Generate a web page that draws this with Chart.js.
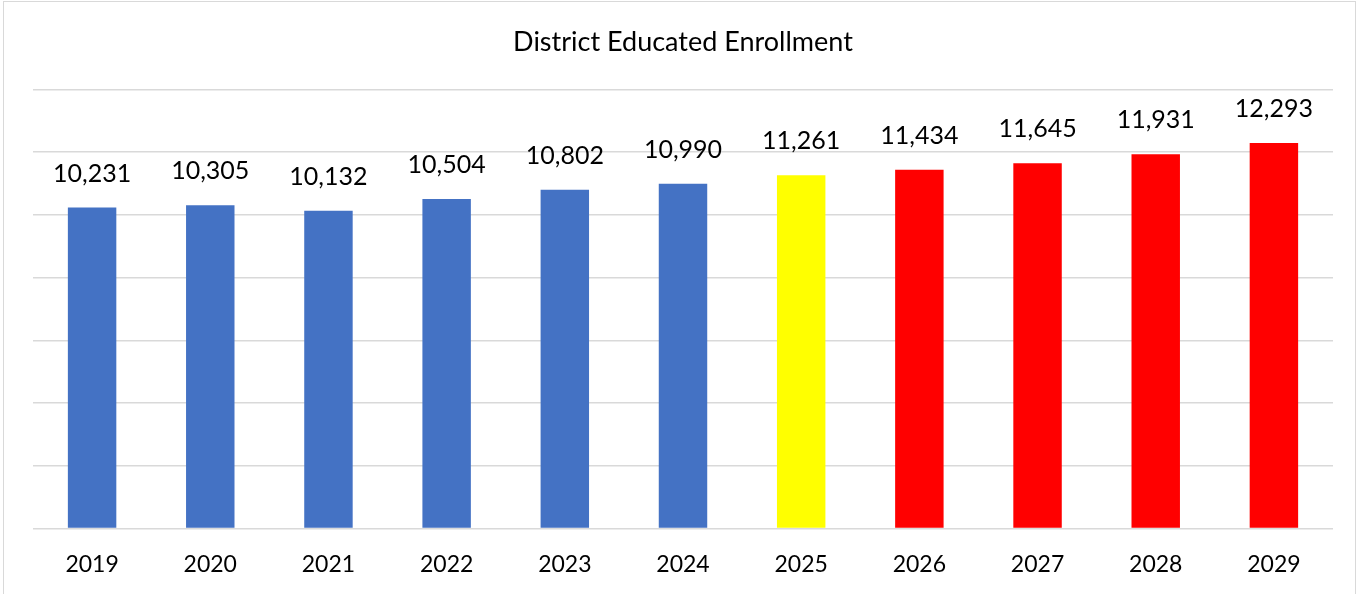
<!DOCTYPE html>
<html>
<head>
<meta charset="utf-8">
<script src="https://cdn.jsdelivr.net/npm/chart.js@4.4.0/dist/chart.umd.min.js"></script>
<style>
  html, body { margin: 0; padding: 0; background: #fff; }
  #wrap { width: 1362px; height: 594px; position: relative; }
</style>
</head>
<body>
<div id="wrap"><canvas id="chart" width="1362" height="594"></canvas></div>
<script>
const years = ["2019", "2020", "2021", "2022", "2023", "2024", "2025", "2026", "2027", "2028", "2029"];
const enrollment = [10231, 10305, 10132, 10504, 10802, 10990, 11261, 11434, 11645, 11931, 12293];
const barColors = ["#4472C4", "#4472C4", "#4472C4", "#4472C4", "#4472C4", "#4472C4",
  "#FFFF00", "#FF0000", "#FF0000", "#FF0000", "#FF0000"];

const FONT = "Lato, 'Open Sans', sans-serif";

// white background + thin frame like the exported picture
const framePlugin = {
  id: "frame",
  beforeDraw(chart) {
    const { ctx, width, height } = chart;
    ctx.save();
    ctx.fillStyle = "#fff";
    ctx.fillRect(0, 0, width, height);
    ctx.strokeStyle = "#d9d9d9";
    ctx.lineWidth = 1;
    ctx.strokeRect(3.5, 1.5, width - 10, height + 10);
    ctx.restore();
  },
};

// value labels above each bar
const valueLabels = {
  id: "valueLabels",
  afterDatasetsDraw(chart) {
    const { ctx } = chart;
    const meta = chart.getDatasetMeta(0);
    ctx.save();
    ctx.font = "25px " + FONT;
    ctx.fillStyle = "#000";
    ctx.textAlign = "center";
    ctx.textBaseline = "alphabetic";
    meta.data.forEach((bar, i) => {
      ctx.fillText(enrollment[i].toLocaleString("en-US"), bar.x, bar.y - 26);
    });
    ctx.restore();
  },
};

new Chart(document.getElementById("chart"), {
  type: "bar",
  data: {
    labels: years,
    datasets: [
      {
        data: enrollment,
        backgroundColor: barColors,
        borderWidth: 0,
        categoryPercentage: 1,
        barPercentage: 0.41,
      },
    ],
  },
  options: {
    responsive: false,
    animation: false,
    layout: {
      padding: { left: 33, right: 29, top: 0, bottom: -6 },
    },
    scales: {
      x: {
        grid: { display: false, drawTicks: false },
        border: { display: false },
        ticks: {
          color: "#000",
          font: { family: FONT, size: 23 },
          padding: 22,
        },
      },
      y: {
        min: 0,
        max: 14000,
        ticks: { display: false, stepSize: 2000 },
        grid: { color: "#d9d9d9", lineWidth: 1.5, drawTicks: false },
        border: { display: false },
      },
    },
    plugins: {
      legend: { display: false },
      tooltip: { enabled: false },
      title: {
        display: true,
        text: "District Educated Enrollment",
        color: "#000",
        font: { family: FONT, size: 27, weight: "normal" },
        padding: { top: 26, bottom: 31 },
      },
    },
  },
  plugins: [framePlugin, valueLabels],
});
</script>
</body>
</html>
